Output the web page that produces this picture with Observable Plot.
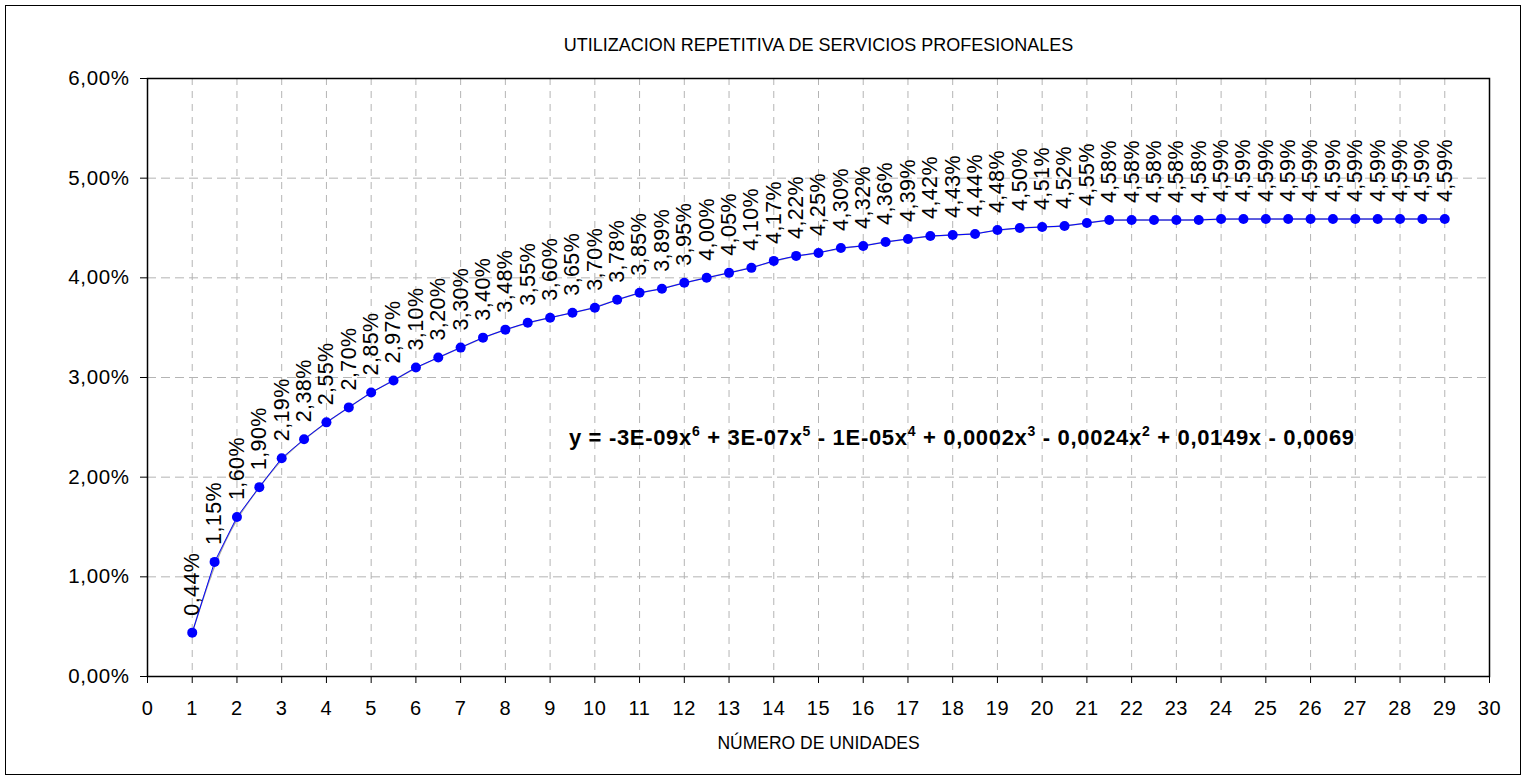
<!DOCTYPE html>
<html><head><meta charset="utf-8">
<script src="https://cdn.jsdelivr.net/npm/d3@7"></script>
<script src="https://cdn.jsdelivr.net/npm/@observablehq/plot@0.6"></script>
<style>
body{margin:0;background:#fff;font-family:"Liberation Sans",Arial,sans-serif;}
#wrap{position:relative;width:1527px;height:779px;}
#frame{position:absolute;left:5px;top:5px;width:1514px;height:768px;border:1.5px solid #000;pointer-events:none;}
svg [aria-label="x-axis tick label"] text, svg [aria-label="y-axis tick label"] text{letter-spacing:0.6px;}
svg g.vlabels text{letter-spacing:0.4px;}
svg g.eq text{letter-spacing:0.68px;}
</style></head><body><div id="wrap"><div id="frame"></div></div>
<script>
const title = "UTILIZACION REPETITIVA DE SERVICIOS PROFESIONALES";
const xLabel = "NÚMERO DE UNIDADES";
const units = [1,1.5,2,2.5,3,3.5,4,4.5,5,5.5,6,6.5,7,7.5,8,8.5,9,9.5,10,10.5,11,11.5,12,12.5,13,13.5,14,14.5,15,15.5,16,16.5,17,17.5,18,18.5,19,19.5,20,20.5,21,21.5,22,22.5,23,23.5,24,24.5,25,25.5,26,26.5,27,27.5,28,28.5,29];
const values = [0.44,1.15,1.60,1.90,2.19,2.38,2.55,2.70,2.85,2.97,3.10,3.20,3.30,3.40,3.48,3.55,3.60,3.65,3.70,3.78,3.85,3.89,3.95,4.00,4.05,4.10,4.17,4.22,4.25,4.30,4.32,4.36,4.39,4.42,4.43,4.44,4.48,4.50,4.51,4.52,4.55,4.58,4.58,4.58,4.58,4.58,4.59,4.59,4.59,4.59,4.59,4.59,4.59,4.59,4.59,4.59,4.59];
const xTicks = [0,1,2,3,4,5,6,7,8,9,10,11,12,13,14,15,16,17,18,19,20,21,22,23,24,25,26,27,28,29,30];
const yTicks = [0,1,2,3,4,5,6];
const equationParts = [["y = -3E-09x",0],["6",1],[" + 3E-07x",0],["5",1],[" - 1E-05x",0],["4",1],[" + 0,0002x",0],["3",1],[" - 0,0024x",0],["2",1],[" + 0,0149x - 0,0069",0]];
const equationText = equationParts.map(p => p[0]).join("");

const data = units.map((x, i) => ({x, y: values[i]}));
const fmt = d => d.toFixed(2).replace(".", ",") + "%";
const font = "'Liberation Sans', Arial, sans-serif";

const chart = Plot.plot({
  width: 1527, height: 779,
  marginLeft: 147, marginRight: 38, marginTop: 78, marginBottom: 103,
  style: {fontFamily: font, background: "transparent", overflow: "visible", color: "#000"},
  x: {domain: [0, 30], label: null},
  y: {domain: [0, 6], label: null},
  marks: [
    Plot.gridX(xTicks, {stroke: "#b4b4b4", strokeOpacity: 1, strokeDasharray: "7,6"}),
    Plot.gridY(yTicks, {stroke: "#b4b4b4", strokeOpacity: 1, strokeDasharray: "9,5"}),
    Plot.axisX(xTicks, {tickSize: 7, tickPadding: 17, fontSize: 20, tickFormat: d => String(d), label: null, stroke: "#000"}),
    Plot.axisY(yTicks, {tickSize: 7, tickPadding: 11, fontSize: 20.5, tickFormat: fmt, label: null, stroke: "#000"}),
    Plot.frame({stroke: "#000", strokeWidth: 1.5}),
    Plot.line(data, {x: "x", y: "y", curve: "basis", stroke: "#a8a8a8", strokeWidth: 1.5}),
    Plot.line(data, {x: "x", y: "y", stroke: "#0000ff", strokeWidth: 1}),
    Plot.dot(data, {x: "x", y: "y", r: 5, fill: "#0000ff", stroke: "none"}),
    Plot.text(data, {x: "x", y: "y", text: d => fmt(d.y), rotate: -90, textAnchor: "start", lineAnchor: "middle", dy: -17, fontSize: 21.5, fill: "#000", className: "vlabels"}),
    Plot.text([title], {frameAnchor: "top", dy: -40, fontSize: 18, fill: "#000"}),
    Plot.text([xLabel], {frameAnchor: "bottom", dy: 72, fontSize: 17.5, fill: "#000"}),
    Plot.text([equationText], {x: 9.42, y: 2.39, textAnchor: "start", fontWeight: "bold", fontSize: 22, fill: "#000", className: "eq"})
  ]
});

// superscripts in the trendline equation
const eqText = d3.select(chart).select("g.eq text");
eqText.text(null);
let raised = false;
for (const [s, sup] of equationParts) {
  const t = eqText.append("tspan").text(s);
  if (sup && !raised) { t.attr("dy", "-9px").attr("font-size", "14px"); raised = true; }
  else if (!sup && raised) { t.attr("dy", "9px"); raised = false; }
}
document.getElementById("wrap").prepend(chart);
chart.style.position = "absolute"; chart.style.left = "0"; chart.style.top = "0";
</script></body></html>
